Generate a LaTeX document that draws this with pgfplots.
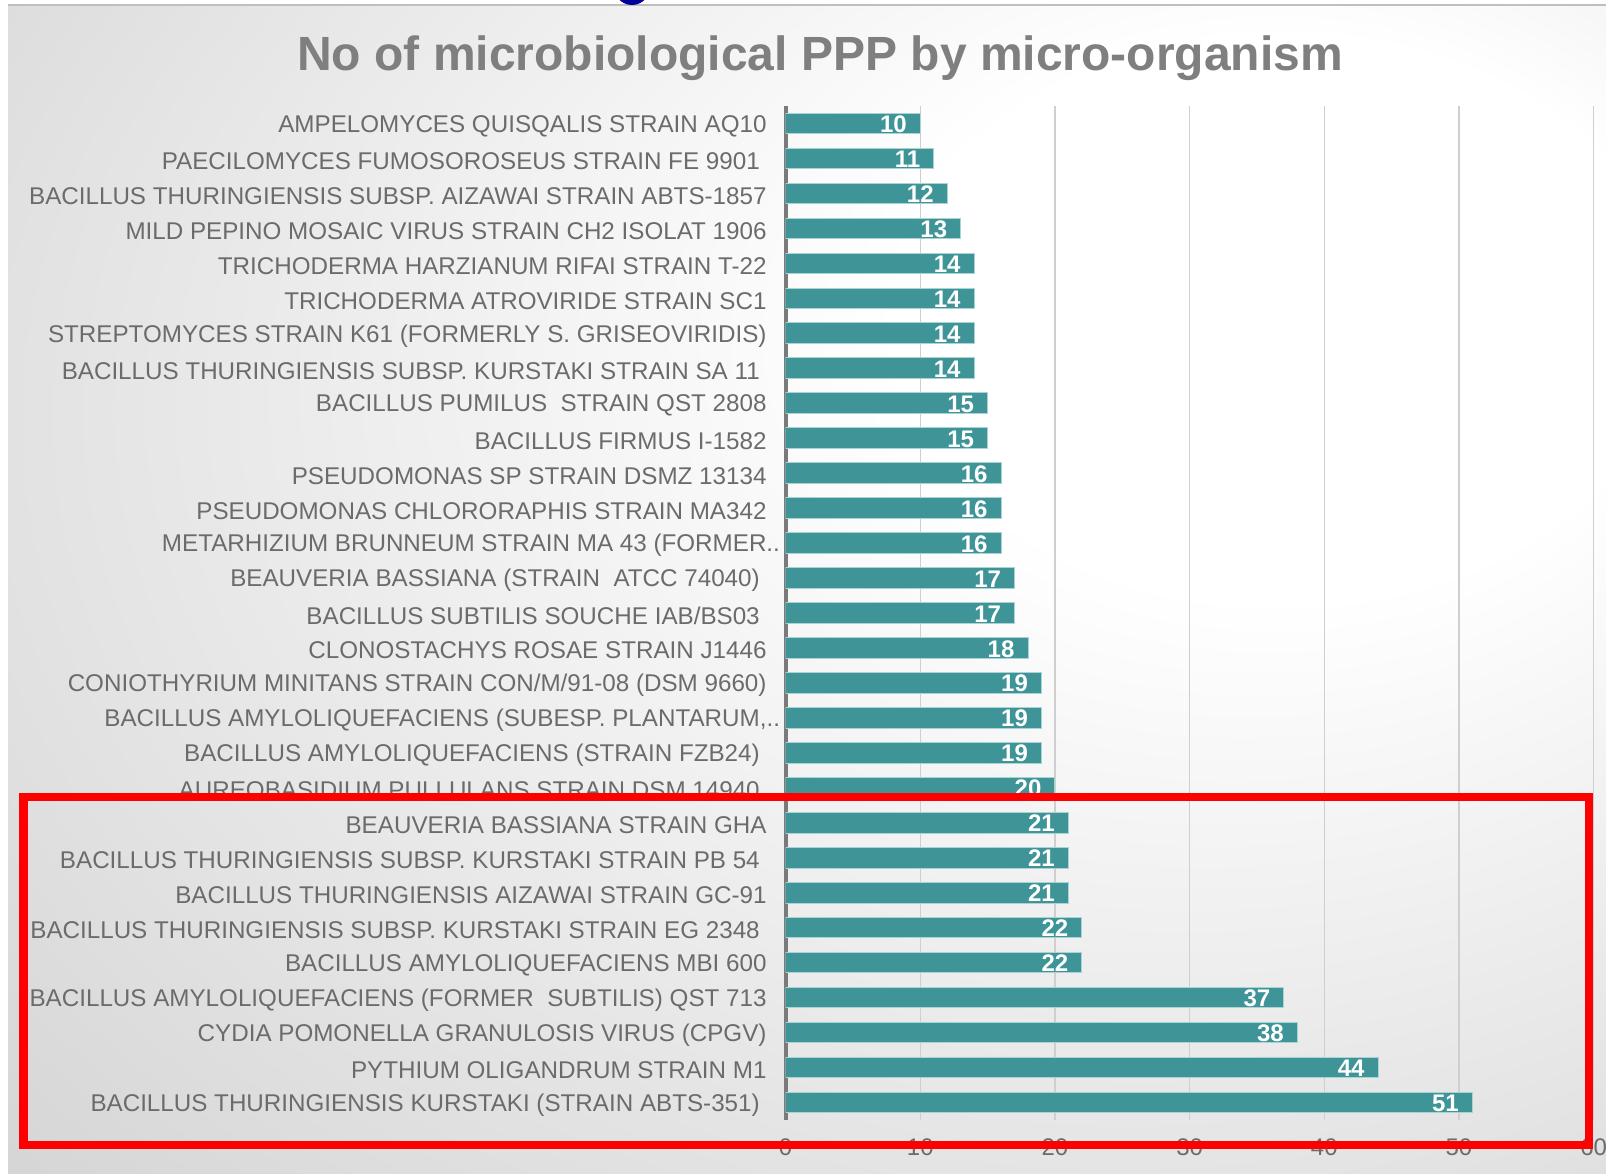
\documentclass[border=0pt]{standalone}
\usepackage{pgfplots}
\usepackage{pgfplotstable}
\pgfplotsset{compat=1.18}
\usepackage{fontspec}
\setmainfont{Liberation Sans}
\definecolor{barc}{HTML}{3E9497}
\definecolor{baredge}{HTML}{A9D4D5}
\definecolor{lbl}{HTML}{6B6B6B}
\definecolor{ttl}{HTML}{7F7F7F}
\definecolor{gridc}{HTML}{CFCFCF}
\definecolor{bgmid}{HTML}{D4D4D4}
\definecolor{bgout}{HTML}{C6C6C6}
\definecolor{axc}{HTML}{7A7A7A}
\pgfdeclareradialshading{bgshade}{\pgfpoint{18bp}{14bp}}{color(0bp)=(white); color(12bp)=(white); color(45bp)=(bgmid); color(70bp)=(bgout)}

\pgfplotstableread{
y x
0 51
1 44
2 38
3 37
4 22
5 22
6 21
7 21
8 21
9 20
10 19
11 19
12 19
13 18
14 17
15 17
16 16
17 16
18 16
19 15
20 15
21 14
22 14
23 14
24 14
25 13
26 12
27 11
28 10
}\datatable

\begin{document}
\begin{tikzpicture}
\useasboundingbox (0,0) rectangle (803pt,586.5pt);
\fill[white] (0,0) rectangle (803pt,586.5pt);
\shade[shading=bgshade] (4pt,0) rectangle (803pt,584pt);
\draw[black!25, line width=0.6pt] (4pt,584pt) -- (803pt,584pt);
\begin{scope}
\clip (0,0) rectangle (803pt,586.5pt);
\fill[blue!60!black] (316pt,593pt) circle (9pt);
\end{scope}
\begin{axis}[
  at={(392.8pt,26.5pt)}, anchor=south west,
  scale only axis, width=404pt, height=507pt,
  xmin=0, xmax=60, ymin=-0.5, ymax=28.5,
  enlargelimits=false,
  xbar, bar width=10.3pt,
  /pgf/number format/assume math mode=true,
  xtick={0,10,...,60},
  ytick={0,...,28},
  yticklabels={
    {BACILLUS THURINGIENSIS KURSTAKI (STRAIN ABTS-351)\kern3.4pt},
    {PYTHIUM OLIGANDRUM STRAIN M1},
    {CYDIA POMONELLA GRANULOSIS VIRUS (CPGV)},
    {BACILLUS AMYLOLIQUEFACIENS (FORMER\ \ SUBTILIS) QST 713},
    {BACILLUS AMYLOLIQUEFACIENS MBI 600},
    {BACILLUS THURINGIENSIS SUBSP. KURSTAKI STRAIN EG 2348\kern3.4pt},
    {BACILLUS THURINGIENSIS AIZAWAI STRAIN GC-91},
    {BACILLUS THURINGIENSIS SUBSP. KURSTAKI STRAIN PB 54\kern3.4pt},
    {BEAUVERIA BASSIANA STRAIN GHA},
    {AUREOBASIDIUM PULLULANS STRAIN DSM 14940\kern3.4pt},
    {BACILLUS AMYLOLIQUEFACIENS (STRAIN FZB24)\kern3.4pt},
    {BACILLUS AMYLOLIQUEFACIENS (SUBESP. PLANTARUM,\rlap{..}},
    {CONIOTHYRIUM MINITANS STRAIN CON/M/91-08 (DSM 9660)},
    {CLONOSTACHYS ROSAE STRAIN J1446},
    {BACILLUS SUBTILIS SOUCHE IAB/BS03\kern3.4pt},
    {BEAUVERIA BASSIANA (STRAIN\ \ ATCC 74040)\kern3.4pt},
    {METARHIZIUM BRUNNEUM STRAIN MA 43 (FORMER\rlap{..}},
    {PSEUDOMONAS CHLORORAPHIS STRAIN MA342},
    {PSEUDOMONAS SP STRAIN DSMZ 13134},
    {BACILLUS FIRMUS I-1582},
    {BACILLUS PUMILUS\ \ STRAIN QST 2808},
    {BACILLUS THURINGIENSIS SUBSP. KURSTAKI STRAIN SA 11\kern3.4pt},
    {STREPTOMYCES STRAIN K61 (FORMERLY S. GRISEOVIRIDIS)},
    {TRICHODERMA ATROVIRIDE STRAIN SC1},
    {TRICHODERMA HARZIANUM RIFAI STRAIN T-22},
    {MILD PEPINO MOSAIC VIRUS STRAIN CH2 ISOLAT 1906},
    {BACILLUS THURINGIENSIS SUBSP. AIZAWAI STRAIN ABTS-1857},
    {PAECILOMYCES FUMOSOROSEUS STRAIN FE 9901\kern3.4pt},
    {AMPELOMYCES QUISQALIS STRAIN AQ10}
  },
  yticklabel style={font=\fontsize{12.1}{14}\selectfont, text=lbl, xshift=-6pt, yshift=-1.3pt},
  xticklabel style={font=\fontsize{12}{14}\selectfont, text=lbl, yshift=-6pt},
  major tick length=0pt,
  axis x line*=bottom, axis y line*=left,
  x axis line style={draw=none},
  y axis line style={draw=axc, line width=2pt, -},
  xmajorgrids, major grid style={draw=gridc, line width=0.6pt},
  nodes near coords,
  every node near coord/.append style={anchor=east, xshift=-3.2pt, yshift=-0.4pt, text=white, font=\bfseries\fontsize{12}{14}\selectfont},
]
\addplot[fill=barc, draw=baredge, line width=0.5pt] table[x=x,y=y]{\datatable};
\end{axis}
\node[font=\bfseries\fontsize{24}{28}\selectfont, text=ttl] at (410pt,557.5pt) {No of microbiological PPP by micro-organism};
\draw[red, line width=4.3pt] (11.8pt,14pt) rectangle (794.5pt,188pt);
\end{tikzpicture}
\end{document}
